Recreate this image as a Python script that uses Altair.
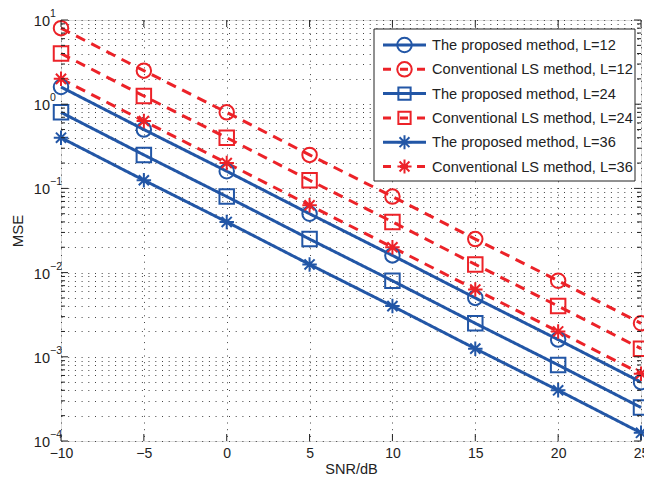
import altair as alt
import pandas as pd

# ---------------- data ----------------
snr = [-10, -5, 0, 5, 10, 15, 20, 25]
prop_12 = [1.6, 0.5, 0.16, 0.05, 0.016, 0.005, 0.0016, 0.0005]
ls_12 = [8.0, 2.5, 0.8, 0.25, 0.08, 0.025, 0.008, 0.0025]
prop_24 = [0.8, 0.25, 0.08, 0.025, 0.008, 0.0025, 0.0008, 0.00025]
ls_24 = [4.0, 1.25, 0.4, 0.125, 0.04, 0.0125, 0.004, 0.00125]
prop_36 = [0.4, 0.125, 0.04, 0.0125, 0.004, 0.00125, 0.0004, 0.000125]
ls_36 = [2.0, 0.63, 0.2, 0.063, 0.02, 0.0063, 0.002, 0.00063]

labels = [
    "The proposed method, L=12",
    "Conventional LS method, L=12",
    "The proposed method, L=24",
    "Conventional LS method, L=24",
    "The proposed method, L=36",
    "Conventional LS method, L=36",
]
methods = ["proposed", "ls", "proposed", "ls", "proposed", "ls"]
series_vals = [prop_12, ls_12, prop_24, ls_24, prop_36, ls_36]

x_ticks = [-10, -5, 0, 5, 10, 15, 20, 25]
decades = [1e-4, 1e-3, 1e-2, 1e-1, 1.0, 10.0]
decade_exp = ["\u22124", "\u22123", "\u22122", "\u22121", "0", "1"]
minor_vals = [m * 10.0 ** k for k in range(-4, 1) for m in range(2, 10)]

# ---------------- styles ----------------
BLUE = "#2256a6"
RED = "#ec2228"
FONT = "Liberation Sans, Arial, sans-serif"
W, H = 580, 421
ASTER = "M-1,0L1,0M0,-1L0,1M-0.7,-0.7L0.7,0.7M-0.7,0.7L0.7,-0.7"
colors = [BLUE, RED, BLUE, RED, BLUE, RED]
shapes = ["circle", "circle", "square", "square", ASTER, ASTER]
sizes = [210, 210, 150, 150, 200, 200]
GRID_DASH = [1, 5.7]

rows = []
for lab, meth, vals in zip(labels, methods, series_vals):
    for s, v in zip(snr, vals):
        rows.append({"snr": s, "mse": v, "series": lab, "method": meth})
df = pd.DataFrame(rows)

xscale = alt.Scale(domain=[-10, 25], nice=False, zero=False)
yscale = alt.Scale(type="log", domain=[1e-4, 10], nice=False)

base = alt.Chart(df)

lines = base.mark_line(strokeWidth=3).encode(
    x=alt.X("snr:Q", scale=xscale,
            axis=alt.Axis(values=x_ticks, title="SNR/dB", grid=True, ticks=False,
                          domain=False, gridDash=GRID_DASH, gridColor="#222",
                          gridOpacity=0.85, labelFont=FONT, labelFontSize=14,
                          labelColor="#222", labelPadding=5, labelFlush=False,
                          labelBound=False, titleFont=FONT,
                          titleFontSize=14.5, titleFontWeight="normal",
                          titleColor="#222", titlePadding=2)),
    y=alt.Y("mse:Q", scale=yscale,
            axis=alt.Axis(values=decades + minor_vals, labels=False, ticks=False,
                          domain=False, grid=True, gridDash=GRID_DASH, gridColor="#222",
                          gridOpacity=0.85, title="MSE", titleFont=FONT,
                          titleFontSize=15, titleFontWeight="normal",
                          titleColor="#222", titleX=-36, titleY=H / 2)),
    color=alt.Color("series:N", scale=alt.Scale(domain=labels, range=colors), legend=None),
    strokeDash=alt.StrokeDash("method:N",
                              scale=alt.Scale(domain=["proposed", "ls"], range=[[1, 0], [10, 7]]),
                              legend=None),
    detail="series:N",
)

points = base.mark_point(filled=False, strokeWidth=2, opacity=1).encode(
    x=alt.X("snr:Q", scale=xscale),
    y=alt.Y("mse:Q", scale=yscale),
    color=alt.Color("series:N", scale=alt.Scale(domain=labels, range=colors), legend=None),
    shape=alt.Shape("series:N", scale=alt.Scale(domain=labels, range=shapes), legend=None),
    size=alt.Size("series:N", scale=alt.Scale(domain=labels, range=sizes), legend=None),
)

# inward ticks
ydec = pd.DataFrame({"mse": decades})
ymin = pd.DataFrame({"mse": minor_vals})
xt = pd.DataFrame({"snr": x_ticks})
tick_layers = []
for d, ln in [(ydec, 7), (ymin, 4)]:
    tick_layers.append(alt.Chart(d).mark_rule(color="#222", strokeWidth=1).encode(
        y=alt.Y("mse:Q", scale=yscale), x=alt.value(0), x2=alt.value(ln)))
    tick_layers.append(alt.Chart(d).mark_rule(color="#222", strokeWidth=1).encode(
        y=alt.Y("mse:Q", scale=yscale), x=alt.value(W), x2=alt.value(W - ln)))
tick_layers.append(alt.Chart(xt).mark_rule(color="#222", strokeWidth=1).encode(
    x=alt.X("snr:Q", scale=xscale), y=alt.value(H), y2=alt.value(H - 7)))
tick_layers.append(alt.Chart(xt).mark_rule(color="#222", strokeWidth=1).encode(
    x=alt.X("snr:Q", scale=xscale), y=alt.value(0), y2=alt.value(7)))

# y tick labels 10^k
ylab_df = pd.DataFrame({"mse": decades, "exp": decade_exp})
ylab_base = alt.Chart(ylab_df).mark_text(font=FONT, fontSize=14.5, align="right",
                                         baseline="middle", dy=2, color="#222").encode(
    y=alt.Y("mse:Q", scale=yscale), x=alt.value(-11), text=alt.value("10"))
ylab_exp = alt.Chart(ylab_df).mark_text(font=FONT, fontSize=10.5, align="left",
                                        baseline="middle", dy=-6, color="#222").encode(
    y=alt.Y("mse:Q", scale=yscale), x=alt.value(-11), text="exp:N")

# legend
leg_y = [25, 49.3, 73.6, 97.9, 122.2, 146.5]
leg_df = pd.DataFrame({"label": labels, "method": methods, "col": colors,
                       "shape": shapes, "ly": leg_y, "sz": sizes})
leg_box = alt.Chart(pd.DataFrame({"k": [0]})).mark_rect(
    fill="white", stroke="#222", strokeWidth=1).encode(
    x=alt.value(313), x2=alt.value(574), y=alt.value(9), y2=alt.value(161))
leg_solid = alt.Chart(leg_df).transform_filter(alt.datum.method == "proposed").mark_rule(
    strokeWidth=3).encode(
    x=alt.value(322), x2=alt.value(365), y=alt.Y("ly:Q", scale=None, axis=None),
    color=alt.Color("col:N", scale=None))
leg_dash = alt.Chart(leg_df).transform_filter(alt.datum.method == "ls").mark_rule(
    strokeWidth=3, strokeDash=[8, 9]).encode(
    x=alt.value(322), x2=alt.value(365), y=alt.Y("ly:Q", scale=None, axis=None),
    color=alt.Color("col:N", scale=None))
leg_pts = alt.Chart(leg_df).mark_point(filled=False, strokeWidth=2, opacity=1).encode(
    x=alt.value(343.5), y=alt.Y("ly:Q", scale=None, axis=None),
    color=alt.Color("col:N", scale=None),
    shape=alt.Shape("shape:N", scale=None),
    size=alt.Size("sz:Q", scale=None))
leg_txt = alt.Chart(leg_df).mark_text(font=FONT, fontSize=14.6, align="left",
                                      baseline="middle", dy=1, color="#222").encode(
    x=alt.value(371), y=alt.Y("ly:Q", scale=None, axis=None), text="label:N")

chart = alt.layer(
    lines, points, *tick_layers, ylab_base, ylab_exp,
    leg_box, leg_solid, leg_dash, leg_pts, leg_txt
).properties(
    width=W, height=H,
    autosize=alt.AutoSizeParams(type="none"),
    padding={"left": 53, "top": 12, "right": 3, "bottom": 36},
).configure_view(stroke="#222", strokeWidth=1.5).configure(background="white")

chart.save("out.html", embed_options={"renderer": "svg", "actions": False})
